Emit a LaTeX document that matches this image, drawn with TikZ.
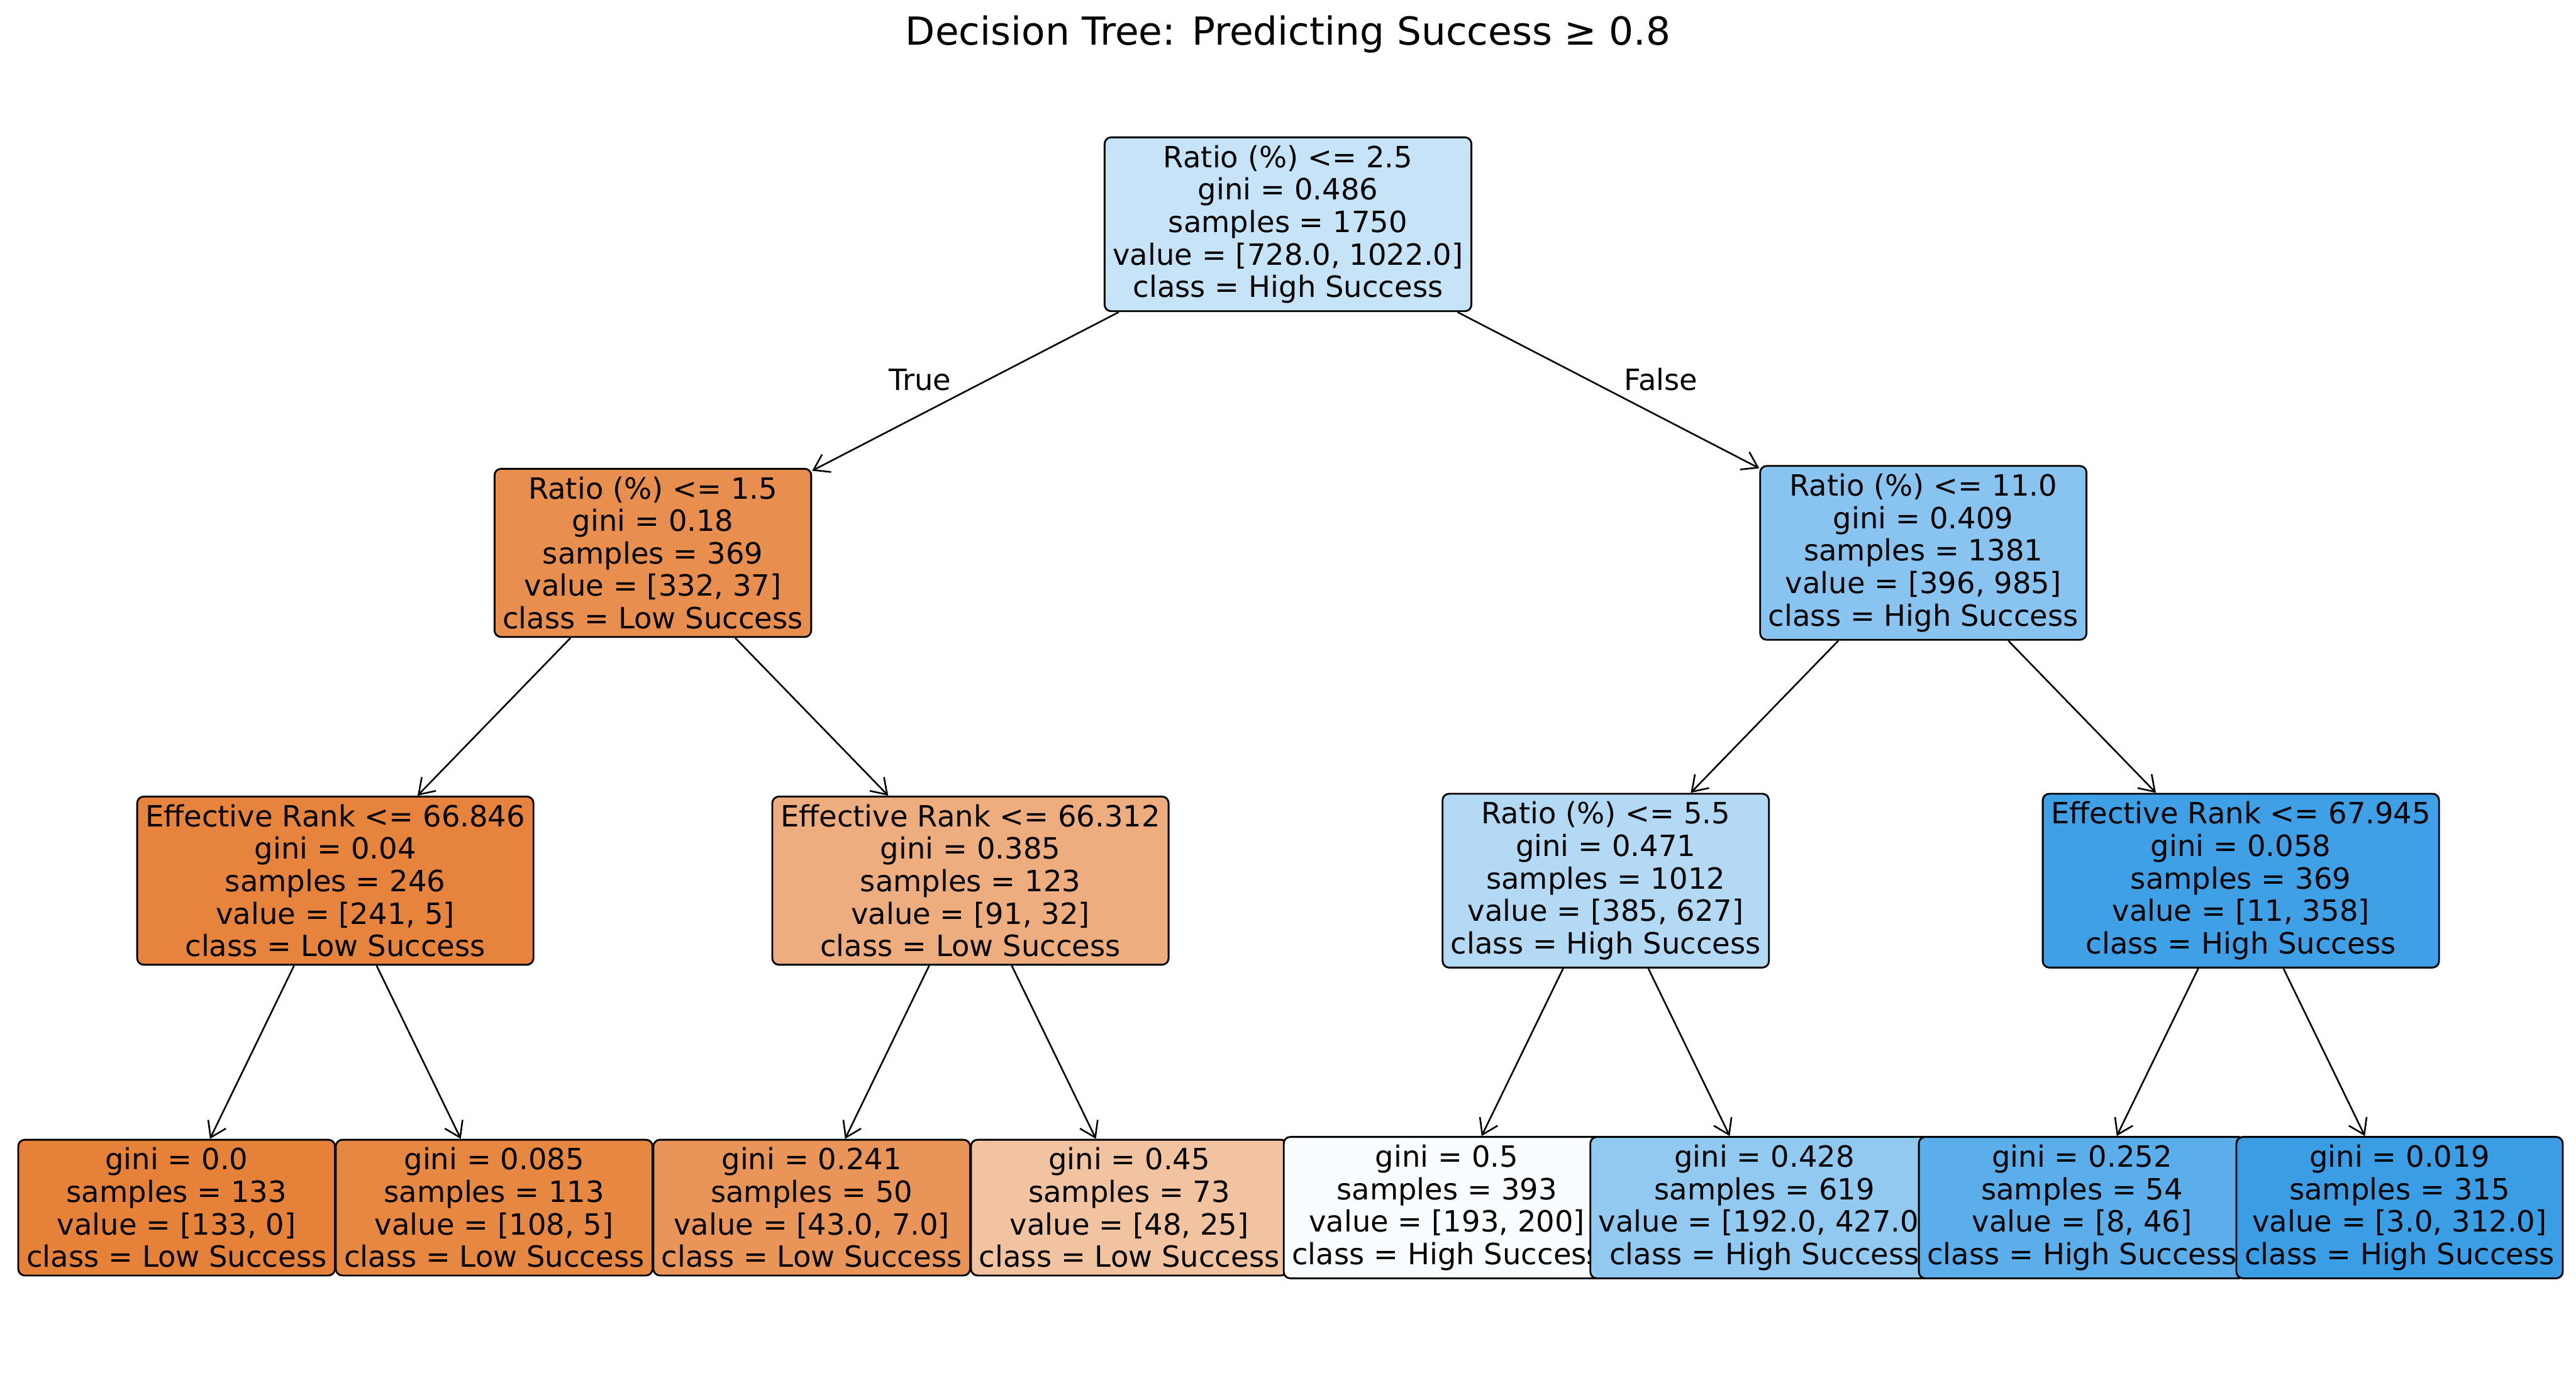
\documentclass[tikz,border=0pt]{standalone}
\usepackage{fontspec}
\setmainfont{DejaVu Sans}
\usetikzlibrary{arrows.meta}

\definecolor{hi29}{RGB}{198,227,247}
\definecolor{lo89}{RGB}{232,143,79}
\definecolor{hi60}{RGB}{137,196,240}
\definecolor{lo98}{RGB}{230,132,61}
\definecolor{lo65}{RGB}{238,173,127}
\definecolor{hi39}{RGB}{179,217,245}
\definecolor{hi97}{RGB}{63,160,230}
\definecolor{lo100}{RGB}{229,129,57}
\definecolor{lo95}{RGB}{230,135,66}
\definecolor{lo84}{RGB}{233,149,89}
\definecolor{lo48}{RGB}{242,195,160}
\definecolor{hi04}{RGB}{248,252,254}
\definecolor{hi55}{RGB}{146,201,241}
\definecolor{hi83}{RGB}{91,174,233}
\definecolor{hi99}{RGB}{59,158,229}

\begin{document}
\begin{tikzpicture}[
  x=1pt, y=-1pt,
  >={Straight Barb[length=9pt,width=12pt]},
  title/.style={font=\fontsize{23.5}{28}\selectfont},
  box/.style={draw=black, line width=1.1pt, rounded corners=4pt, align=center,
    inner xsep=5pt, inner ysep=4.8pt, font=\fontsize{17.8}{19.75}\selectfont},
  lbl/.style={font=\fontsize{17.8}{19.75}\selectfont},
  edge/.style={draw, line width=1pt, ->}
  ]
  \useasboundingbox (0,0) rectangle (1568,846);

  \node (ttl) [title] at (784,21) {Decision Tree: Predicting Success ≥ 0.8};

  % depth 0 and 1
  \node (root) [box, fill=hi29] at (784,136.5)
    {Ratio (\%) <= 2.5\\gini = 0.486\\samples = 1750\\value = [728.0, 1022.0]\\class = High Success};
  \node (ra15) [box, fill=lo89] at (397.4,336.5)
    {Ratio (\%) <= 1.5\\gini = 0.18\\samples = 369\\value = [332, 37]\\class = Low Success};

  % left half
  \node (er846) [box, fill=lo98] at (204.1,536)
    {Effective Rank <= 66.846\\gini = 0.04\\samples = 246\\value = [241, 5]\\class = Low Success};
  \node (lf1) [box, fill=lo100] at (107.5,735)
    {gini = 0.0\\samples = 133\\value = [133, 0]\\class = Low Success};
  \node (lf2) [box, fill=lo95] at (300.8,735)
    {gini = 0.085\\samples = 113\\value = [108, 5]\\class = Low Success};
  \node (er312) [box, fill=lo65] at (590.7,536)
    {Effective Rank <= 66.312\\gini = 0.385\\samples = 123\\value = [91, 32]\\class = Low Success};
  \node (lf3) [box, fill=lo84] at (494.1,735)
    {gini = 0.241\\samples = 50\\value = [43.0, 7.0]\\class = Low Success};
  \node (lf4) [box, fill=lo48] at (687.4,735)
    {gini = 0.45\\samples = 73\\value = [48, 25]\\class = Low Success};

  % right half
  \node (ra11) [box, fill=hi60] at (1170.7,336.5)
    {Ratio (\%) <= 11.0\\gini = 0.409\\samples = 1381\\value = [396, 985]\\class = High Success};
  \node (ra55) [box, fill=hi39] at (977.4,536)
    {Ratio (\%) <= 5.5\\gini = 0.471\\samples = 1012\\value = [385, 627]\\class = High Success};
  \node (lf5) [box, fill=hi04] at (880.7,735)
    {gini = 0.5\\samples = 393\\value = [193, 200]\\class = High Success};
  \node (lf6) [box, fill=hi55] at (1074,735)
    {gini = 0.428\\samples = 619\\value = [192.0, 427.0]\\class = High Success};
  \node (er945) [box, fill=hi97] at (1364,536)
    {Effective Rank <= 67.945\\gini = 0.058\\samples = 369\\value = [11, 358]\\class = High Success};
  \node (lf7) [box, fill=hi83] at (1267.3,735)
    {gini = 0.252\\samples = 54\\value = [8, 46]\\class = High Success};
  \node (lf8) [box, fill=hi99] at (1460.6,735)
    {gini = 0.019\\samples = 315\\value = [3.0, 312.0]\\class = High Success};

  \node (lbltrue) [lbl] at (560,231) {True};
  \node (lblfalse) [lbl] at (1011,231) {False};

  \path [edge] (root) -- (ra15) ;
  \path [edge] (root) -- (ra11) ;
  \path [edge] (ra15) -- (er846) ;
  \path [edge] (ra15) -- (er312) ;
  \path [edge] (er846) -- (lf1) ;
  \path [edge] (er846) -- (lf2) ;
  \path [edge] (er312) -- (lf3) ;
  \path [edge] (er312) -- (lf4) ;
  \path [edge] (ra11) -- (ra55) ;
  \path [edge] (ra11) -- (er945) ;
  \path [edge] (ra55) -- (lf5) ;
  \path [edge] (ra55) -- (lf6) ;
  \path [edge] (er945) -- (lf7) ;
  \path [edge] (er945) -- (lf8) ;
\end{tikzpicture}
\end{document}
